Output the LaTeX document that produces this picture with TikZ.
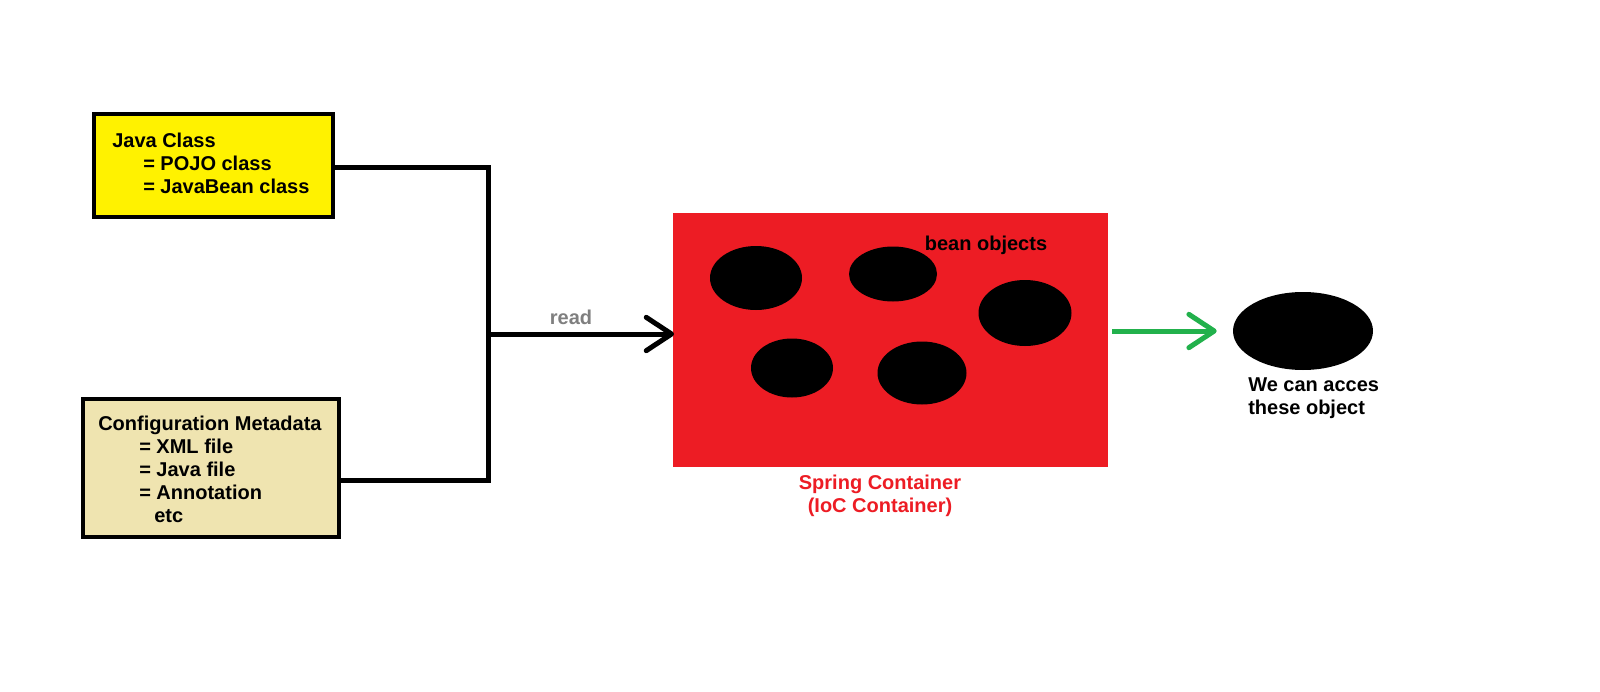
\documentclass[tikz,border=0pt]{standalone}
\usepackage{fontspec}
\setmainfont{Liberation Sans}
\usetikzlibrary{arrows.meta,shapes.geometric}
\definecolor{pyellow}{HTML}{FFF200}
\definecolor{pbeige}{HTML}{EFE4B0}
\definecolor{pred}{HTML}{ED1C24}
\definecolor{pgreen}{HTML}{22B14C}
\definecolor{pgray}{HTML}{7F7F7F}
\begin{document}
\begin{tikzpicture}[x=0.75pt,y=-0.75pt,
  lbl/.style={font=\bfseries\fontsize{15pt}{17.25pt}\selectfont, inner sep=0pt},
  box/.style={draw=black, line width=3pt, inner sep=0pt},
  bean/.style={ellipse, fill=black, inner sep=0pt},
  conn/.style={line width=3.75pt},
  barb/.style={-{Straight Barb[length=19pt,width=25pt,round]}}]
\useasboundingbox (0,0) rectangle (1600,692);
\fill[white] (0,0) rectangle (1600,692);

% input boxes
\node[box, fill=pyellow, minimum width=179.25pt, minimum height=77.25pt] (jc) at (213,165.5) {};
\node[box, fill=pbeige, minimum width=192pt, minimum height=103.5pt] (cm) at (211,468) {};
\node[lbl, anchor=north west, align=left] (jctxt) at (112,133)
  {Java Class\\\hspace*{23.25pt}= POJO class\\\hspace*{23.25pt}= JavaBean class};
\node[lbl, anchor=north west, align=left] (cmtxt) at (98,416)
  {Configuration Metadata\\\hspace*{30.75pt}= XML file\\\hspace*{30.75pt}= Java file\\\hspace*{30.75pt}= Annotation\\\hspace*{42pt}etc};

% container
\node[fill=pred, inner sep=0pt, minimum width=326.25pt, minimum height=190.5pt] (rb) at (890.5,340) {};
\node[bean, minimum width=69pt, minimum height=48pt] (b1) at (756,278) {};
\node[bean, minimum width=66pt, minimum height=41.25pt] (b2) at (893,274) {};
\node[bean, minimum width=69.75pt, minimum height=49.5pt] (b3) at (1025,313) {};
\node[bean, minimum width=61.5pt, minimum height=44.25pt] (b4) at (792,368) {};
\node[bean, minimum width=66.75pt, minimum height=47.25pt] (b5) at (922,373) {};
\node[lbl, anchor=base] (beantxt) at (986,250) {bean objects};
\node[lbl, anchor=north, align=center, text=pred] (sctxt) at (880,475) {Spring Container\\(IoC Container)};

% accessed object
\node[bean, minimum width=105pt, minimum height=58.5pt] (obj) at (1303,331) {};
\node[lbl, anchor=north west, align=left] (objtxt) at (1248,377) {We can acces\\these object};

% connectors
\coordinate (top) at (488,167);
\coordinate (bot) at (488,480);
\coordinate (mid) at (488,334);
\draw[conn, line join=miter] (jc.east |- top) -- (top) -- (bot) -- (cm.east |- bot);
\draw[conn, barb] (mid) -- ([xshift=1pt]rb.west |- mid);
\node[lbl, anchor=base, text=pgray] (readtxt) at (571,324) {read};
\draw[conn, pgreen, barb] ([xshift=3pt]rb.east |- obj.west) -- ([xshift=-12pt]obj.west);
\end{tikzpicture}
\end{document}
